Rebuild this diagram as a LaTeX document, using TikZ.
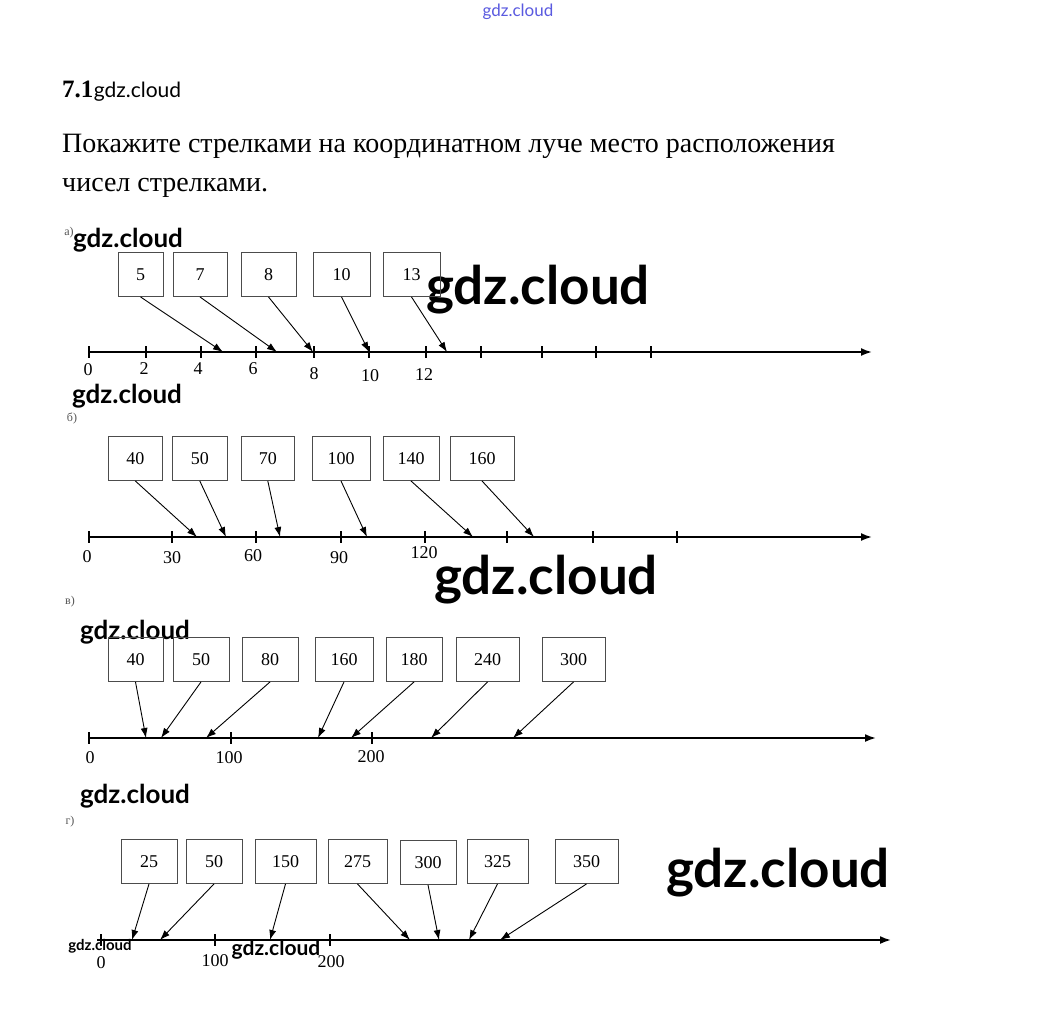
\documentclass[tikz,border=0pt]{standalone}
\usepackage{fontspec}
\setmainfont{Liberation Serif}
\newfontfamily\wmfont{Lato}
\usetikzlibrary{arrows.meta}
\definecolor{gzgray}{HTML}{555555}
\definecolor{gzblue}{HTML}{5A5AE0}

\begin{document}
\begin{tikzpicture}[x=1pt, y=-1pt,
    numbox/.style={draw=black!70, line width=0.9pt, minimum height=44pt, inner sep=0pt, font=\fontsize{18}{20}\selectfont},
    ticklbl/.style={font=\fontsize{18}{20}\selectfont},
    ray/.style={line width=1.8pt, -{Latex[length=11pt,width=8pt]}},
    pointer/.style={line width=0.9pt, -{Latex[length=10pt,width=7pt]}},
    wmark/.style={font=\wmfont\bfseries\fontsize{#1}{#1}\selectfont},
    part/.style={font=\fontsize{12}{12}\selectfont, text=gzgray}]
  \useasboundingbox[fill=white] (0,0) rectangle (1037,1034);

  % heading and task text
  \node[font=\wmfont\fontsize{17}{17}\selectfont, text=gzblue] (wtop) at (518,12) {gdz.cloud};
  \node[anchor=base west, inner sep=0pt, font=\bfseries\fontsize{25}{27}\selectfont] (num) at (62,97) {7.1};
  \node[anchor=base west, inner sep=0pt, font=\wmfont\fontsize{21}{21}\selectfont] (wnum) at (num.base east) {gdz.cloud};
  \node[anchor=base west, inner sep=0pt, font=\fontsize{28}{30}\selectfont] (task1) at (62,152) {Покажите стрелками на координатном луче место расположения};
  \node[anchor=base west, inner sep=0pt, font=\fontsize{28}{30}\selectfont] (task2) at (62,191) {чисел стрелками.};

  % watermarks
  \node[wmark=53] (wbig1) at (538,290) {gdz.cloud};
  \node[wmark=53] (wbig2) at (546,580) {gdz.cloud};
  \node[wmark=53] (wbig3) at (778,873) {gdz.cloud};
  \node[wmark=26] (wa) at (128,240) {gdz.cloud};
  \node[wmark=26] (wb) at (127,396) {gdz.cloud};
  \node[wmark=26] (wc) at (135,632) {gdz.cloud};
  \node[wmark=26] (wd) at (135,796) {gdz.cloud};
  \node[wmark=15] (wd0) at (100,946) {gdz.cloud};
  \node[wmark=21] (wd1) at (276,950) {gdz.cloud};

  % a)
  \node[part] (pa) at (69,233) {а)};
  \node[numbox, minimum width=45pt] (a5) at (140.5,274.5) {5};
  \node[numbox, minimum width=54pt] (a7) at (200,274.5) {7};
  \node[numbox, minimum width=55pt] (a8) at (268.5,274.5) {8};
  \node[numbox, minimum width=57pt] (a10) at (341.5,274.5) {10};
  \node[numbox, minimum width=57pt] (a13) at (411.5,274.5) {13};
  \coordinate (ra0) at (89,352);
  \coordinate (raend) at (872,352);
  \draw[ray] (ra0) -- (raend);
  \draw[line width=1.2pt] (89,346) -- (89,358) (146,346) -- (146,358) (201,346) -- (201,358)
    (256,346) -- (256,358) (314,346) -- (314,358) (369,346) -- (369,358) (426,346) -- (426,358)
    (481,346) -- (481,358) (542,346) -- (542,358) (596,346) -- (596,358) (651,346) -- (651,358);
  \coordinate (ta5) at (223,352);
  \coordinate (ta7) at (277,352);
  \coordinate (ta8) at (313,352);
  \coordinate (ta10) at (369,352);
  \coordinate (ta13) at (447,352);
  \draw[pointer] (a5.south) -- (ta5);
  \draw[pointer] (a7.south) -- (ta7);
  \draw[pointer] (a8.south) -- (ta8);
  \draw[pointer] (a10.south) -- (ta10);
  \draw[pointer] (a13.south) -- (ta13);
  \node[ticklbl] (la0) at (88,370) {0};
  \node[ticklbl] (la2) at (144,369) {2};
  \node[ticklbl] (la4) at (198,369) {4};
  \node[ticklbl] (la6) at (253,369) {6};
  \node[ticklbl] (la8) at (314,374) {8};
  \node[ticklbl] (la10) at (370,376) {10};
  \node[ticklbl] (la12) at (424,375) {12};

  % b)
  \node[part] (pb) at (72,418) {б)};
  \node[numbox, minimum width=54.5pt] (b40) at (135.3,458.5) {40};
  \node[numbox, minimum width=54.5pt] (b50) at (199.8,458.5) {50};
  \node[numbox, minimum width=53.5pt] (b70) at (267.8,458.5) {70};
  \node[numbox, minimum width=58pt] (b100) at (341,458.5) {100};
  \node[numbox, minimum width=56pt] (b140) at (411,458.5) {140};
  \node[numbox, minimum width=64pt] (b160) at (482,458.5) {160};
  \coordinate (rb0) at (89,537);
  \coordinate (rbend) at (872,537);
  \draw[ray] (rb0) -- (rbend);
  \draw[line width=1.2pt] (89,531) -- (89,543) (172,531) -- (172,543) (256,531) -- (256,543)
    (341,531) -- (341,543) (425,531) -- (425,543) (507,531) -- (507,543) (593,531) -- (593,543)
    (677,531) -- (677,543);
  \coordinate (tb40) at (197,537);
  \coordinate (tb50) at (226,537);
  \coordinate (tb70) at (280,537);
  \coordinate (tb100) at (367,537);
  \coordinate (tb140) at (473,537);
  \coordinate (tb160) at (534,537);
  \draw[pointer] (b40.south) -- (tb40);
  \draw[pointer] (b50.south) -- (tb50);
  \draw[pointer] (b70.south) -- (tb70);
  \draw[pointer] (b100.south) -- (tb100);
  \draw[pointer] (b140.south) -- (tb140);
  \draw[pointer] (b160.south) -- (tb160);
  \node[ticklbl] (lb0) at (87,557) {0};
  \node[ticklbl] (lb30) at (172,558) {30};
  \node[ticklbl] (lb60) at (253,556) {60};
  \node[ticklbl] (lb90) at (339,558) {90};
  \node[ticklbl] (lb120) at (424,553) {120};

  % c)
  \node[part] (pc) at (70,602) {в)};
  \node[numbox, minimum width=55pt] (c40) at (135.5,659.5) {40};
  \node[numbox, minimum width=56pt] (c50) at (201,659.5) {50};
  \node[numbox, minimum width=56pt] (c80) at (270,659.5) {80};
  \node[numbox, minimum width=58pt] (c160) at (344,659.5) {160};
  \node[numbox, minimum width=56pt] (c180) at (414,659.5) {180};
  \node[numbox, minimum width=63pt] (c240) at (487.5,659.5) {240};
  \node[numbox, minimum width=63pt] (c300) at (573.5,659.5) {300};
  \coordinate (rc0) at (89,738);
  \coordinate (rcend) at (876,738);
  \draw[ray] (rc0) -- (rcend);
  \draw[line width=1.2pt] (89,732) -- (89,744) (231,732) -- (231,744) (372,732) -- (372,744);
  \coordinate (tc40) at (146,738);
  \coordinate (tc50) at (161,738);
  \coordinate (tc80) at (206,738);
  \coordinate (tc160) at (318,738);
  \coordinate (tc180) at (351,738);
  \coordinate (tc240) at (431,738);
  \coordinate (tc300) at (513,738);
  \draw[pointer] (c40.south) -- (tc40);
  \draw[pointer] (c50.south) -- (tc50);
  \draw[pointer] (c80.south) -- (tc80);
  \draw[pointer] (c160.south) -- (tc160);
  \draw[pointer] (c180.south) -- (tc180);
  \draw[pointer] (c240.south) -- (tc240);
  \draw[pointer] (c300.south) -- (tc300);
  \node[ticklbl] (lc0) at (90,758) {0};
  \node[ticklbl] (lc100) at (229,758) {100};
  \node[ticklbl] (lc200) at (371,757) {200};

  % d)
  \node[part] (pd) at (70,822) {г)};
  \node[numbox, minimum width=56pt] (d25) at (149,861.5) {25};
  \node[numbox, minimum width=56pt] (d50) at (214,861.5) {50};
  \node[numbox, minimum width=61pt] (d150) at (285.5,861.5) {150};
  \node[numbox, minimum width=59pt] (d275) at (357.5,861.5) {275};
  \node[numbox, minimum width=56pt] (d300) at (428,862.5) {300};
  \node[numbox, minimum width=61pt] (d325) at (497.5,861.5) {325};
  \node[numbox, minimum width=63pt] (d350) at (586.5,861.5) {350};
  \coordinate (rd0) at (97,940);
  \coordinate (rdend) at (891,940);
  \draw[ray] (rd0) -- (rdend);
  \draw[line width=1.2pt] (101,934) -- (101,946) (215,934) -- (215,946) (330,934) -- (330,946);
  \coordinate (td25) at (132,940);
  \coordinate (td50) at (160,940);
  \coordinate (td150) at (270,940);
  \coordinate (td275) at (410,940);
  \coordinate (td300) at (439,940);
  \coordinate (td325) at (469,940);
  \coordinate (td350) at (500,940);
  \draw[pointer] (d25.south) -- (td25);
  \draw[pointer] (d50.south) -- (td50);
  \draw[pointer] (d150.south) -- (td150);
  \draw[pointer] (d275.south) -- (td275);
  \draw[pointer] (d300.south) -- (td300);
  \draw[pointer] (d325.south) -- (td325);
  \draw[pointer] (d350.south) -- (td350);
  \node[ticklbl] (ld0) at (101,963) {0};
  \node[ticklbl] (ld100) at (215,961) {100};
  \node[ticklbl] (ld200) at (331,962) {200};
\end{tikzpicture}
\end{document}
